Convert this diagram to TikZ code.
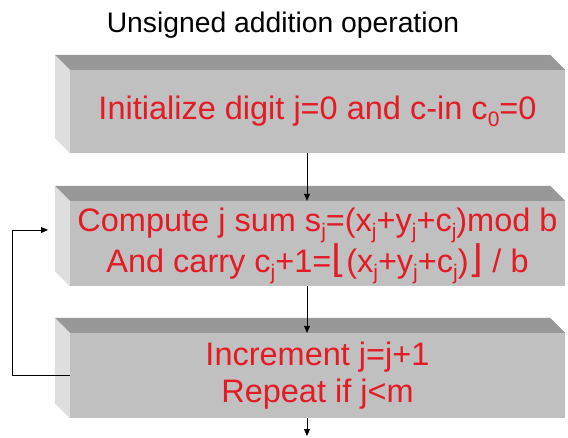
\documentclass[tikz,border=0pt]{standalone}
\usepackage{fontspec}
\setmainfont{Liberation Sans}
\newfontfamily\symfont{DejaVu Sans}
\usetikzlibrary{arrows.meta}
\definecolor{facegray}{RGB}{192,192,192}
\definecolor{topgray}{RGB}{152,152,152}
\definecolor{sidegray}{RGB}{222,222,222}
\definecolor{txtred}{RGB}{228,26,36}
\newcommand\sbs[1]{\raisebox{-7pt}{\fontsize{21}{21}\selectfont #1}}
\newcommand\flr[1]{{\symfont\fontsize{38}{38}\selectfont #1}}
\newcommand\cubebevel[1]{%
  \fill[topgray] (#1.north west) -- ++(-15,-15) -- ([shift={(-15,-15)}]#1.north east) -- (#1.north east) -- cycle;
  \fill[sidegray] (#1.north west) -- ++(-15,-15) -- ([shift={(-15,-15)}]#1.south west) -- (#1.south west) -- cycle;}
\begin{document}
\begin{tikzpicture}[x=1pt,y=-1pt,
  face/.style={fill=facegray, draw=none, minimum width=495pt, inner sep=0pt,
    align=center, text=txtred, font=\fontsize{32.5}{37}\selectfont},
  conn/.style={draw=black, line width=0.9pt, -{Triangle[length=7pt,width=6pt]}}]
\useasboundingbox (0,0) rectangle (568,437);
\fill[white] (0,0) rectangle (568,437);
\node[font=\fontsize{28.3}{30}\selectfont] (title) at (283,25) {Unsigned addition operation};
\node[face, minimum height=83pt] (b1) at (317.5,111.5) {Initialize digit j=0 and c-in c\sbs{0}=0};
\node[face, minimum height=85pt] (b2) at (317.5,243.5) {};
\node[face, anchor=center] (b2t) at (317.5,246) {Compute j sum s\sbs{j}=(x\sbs{j}+y\sbs{j}+c\sbs{j})mod b\\And carry c\sbs{j}+1=\flr{⌊}(x\sbs{j}+y\sbs{j}+c\sbs{j})\flr{⌋} / b};
\node[face, minimum height=85pt] (b3) at (317.5,375.5) {Increment j=j+1\\Repeat if j<m};
\cubebevel{b1}
\cubebevel{b2}
\cubebevel{b3}
\coordinate (fbin) at (48,230);
\coordinate (endpt) at (307,436);
\draw[conn] ([xshift=-10.5pt]b1.south) -- ([xshift=-10.5pt]b2.north);
\draw[conn] ([xshift=-10.5pt]b2.south) -- ([xshift=-10.5pt]b3.north);
\draw[conn] ([xshift=-10.5pt]b3.south) -- (endpt);
\draw[conn] (b3.west) -- ++(-57,0) |- (fbin);
\end{tikzpicture}
\end{document}
